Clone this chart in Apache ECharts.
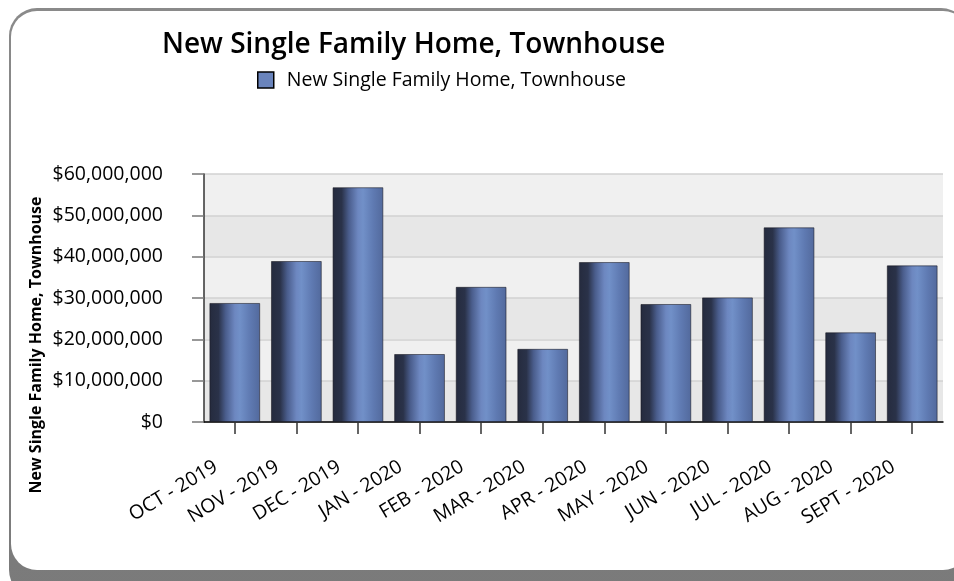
<!DOCTYPE html>
<html>
<head>
<meta charset="utf-8">
<script src="https://cdn.jsdelivr.net/npm/echarts@6/dist/echarts.min.js"></script>
<style>
html,body{margin:0;padding:0;background:#fff;}
#c{width:954px;height:581px;}
</style>
</head>
<body>
<div id="c"></div>
<script>
const chartTitle = 'New Single Family Home, Townhouse';
const seriesName = 'New Single Family Home, Townhouse';
const categories = ['OCT - 2019','NOV - 2019','DEC - 2019','JAN - 2020','FEB - 2020','MAR - 2020','APR - 2020','MAY - 2020','JUN - 2020','JUL - 2020','AUG - 2020','SEPT - 2020'];
const values = [28800000, 38950000, 56800000, 16450000, 32700000, 17700000, 38700000, 28550000, 30150000, 47100000, 21700000, 37900000];
const yMin = 0, yMax = 60000000, yStep = 10000000;

const font = 'Open Sans';
const chart = echarts.init(document.getElementById('c'), null, {renderer:'canvas'});
const barGrad = new echarts.graphic.LinearGradient(0,0,1,0,[
  {offset:0, color:'#252b3e'},
  {offset:0.18, color:'#2a3249'},
  {offset:0.32, color:'#4a5d8c'},
  {offset:0.5, color:'#6d87c0'},
  {offset:0.6, color:'#7190c8'},
  {offset:0.8, color:'#5f7ab2'},
  {offset:1, color:'#52699c'}
]);
chart.setOption({
  animation:false,
  backgroundColor:'#ffffff',
  graphic:[
    {type:'rect', z:-10, shape:{x:9,y:8,width:960,height:590,r:28}, style:{fill:new echarts.graphic.LinearGradient(0,0,0,1,[{offset:0,color:'#8a8a8a'},{offset:1,color:'#7a7a7a'}])}, silent:true},
    {type:'rect', z:-9, shape:{x:11,y:11,width:958,height:559,r:26}, style:{fill:'#ffffff'}, silent:true},
    {type:'text', z:10, x:36, y:345, rotation:Math.PI/2, style:{text:seriesName, fontFamily:font, fontSize:16, fontWeight:'bold', fill:'#000', align:'center', verticalAlign:'middle'}}
  ],
  title:{
    text:chartTitle, left:157, top:26,
    textStyle:{fontFamily:font, fontSize:28, fontWeight:600, color:'#000'}
  },
  legend:{
    left:252, top:65, itemWidth:16, itemHeight:16, selectedMode:false,
    itemStyle:{borderColor:'#000', borderWidth:1.5},
    textStyle:{fontFamily:font, fontSize:19.5, color:'#000', padding:[0,0,0,8]},
    data:[{name:seriesName, icon:'rect', itemStyle:{color:'#6a84bc'}}]
  },
  grid:{left:204, right:11, top:174, bottom:159, containLabel:false},
  xAxis:{
    type:'category', data:categories,
    axisLine:{show:true, lineStyle:{color:'#000', width:1.5}},
    axisTick:{show:true, alignWithLabel:true, length:12, lineStyle:{color:'#333', width:1.5}},
    axisLabel:{rotate:31, margin:32, fontFamily:font, fontSize:19.5, color:'#000', interval:0, padding:[0,22,0,0]},
    splitLine:{show:false}
  },
  yAxis:{
    type:'value', min:yMin, max:yMax, interval:yStep,
    axisLine:{show:true, lineStyle:{color:'#333', width:1.5}},
    axisTick:{show:true, inside:false, length:12, lineStyle:{color:'#777', width:1.5}},
    axisLabel:{margin:41, fontFamily:font, fontSize:19.5, color:'#000',
      formatter:v=>'$'+v.toLocaleString('en-US')},
    splitLine:{show:true, lineStyle:{color:'#d2d2d2', width:1.5}},
    splitArea:{show:true, areaStyle:{color:['#e7e7e7','#f0f0f0']}}
  },
  series:[{
    name:seriesName, type:'bar', data:values, barCategoryGap:'17.5%',
    itemStyle:{color:barGrad, borderColor:'rgba(20,20,30,0.55)', borderWidth:1}
  }]
});
</script>
</body>
</html>
